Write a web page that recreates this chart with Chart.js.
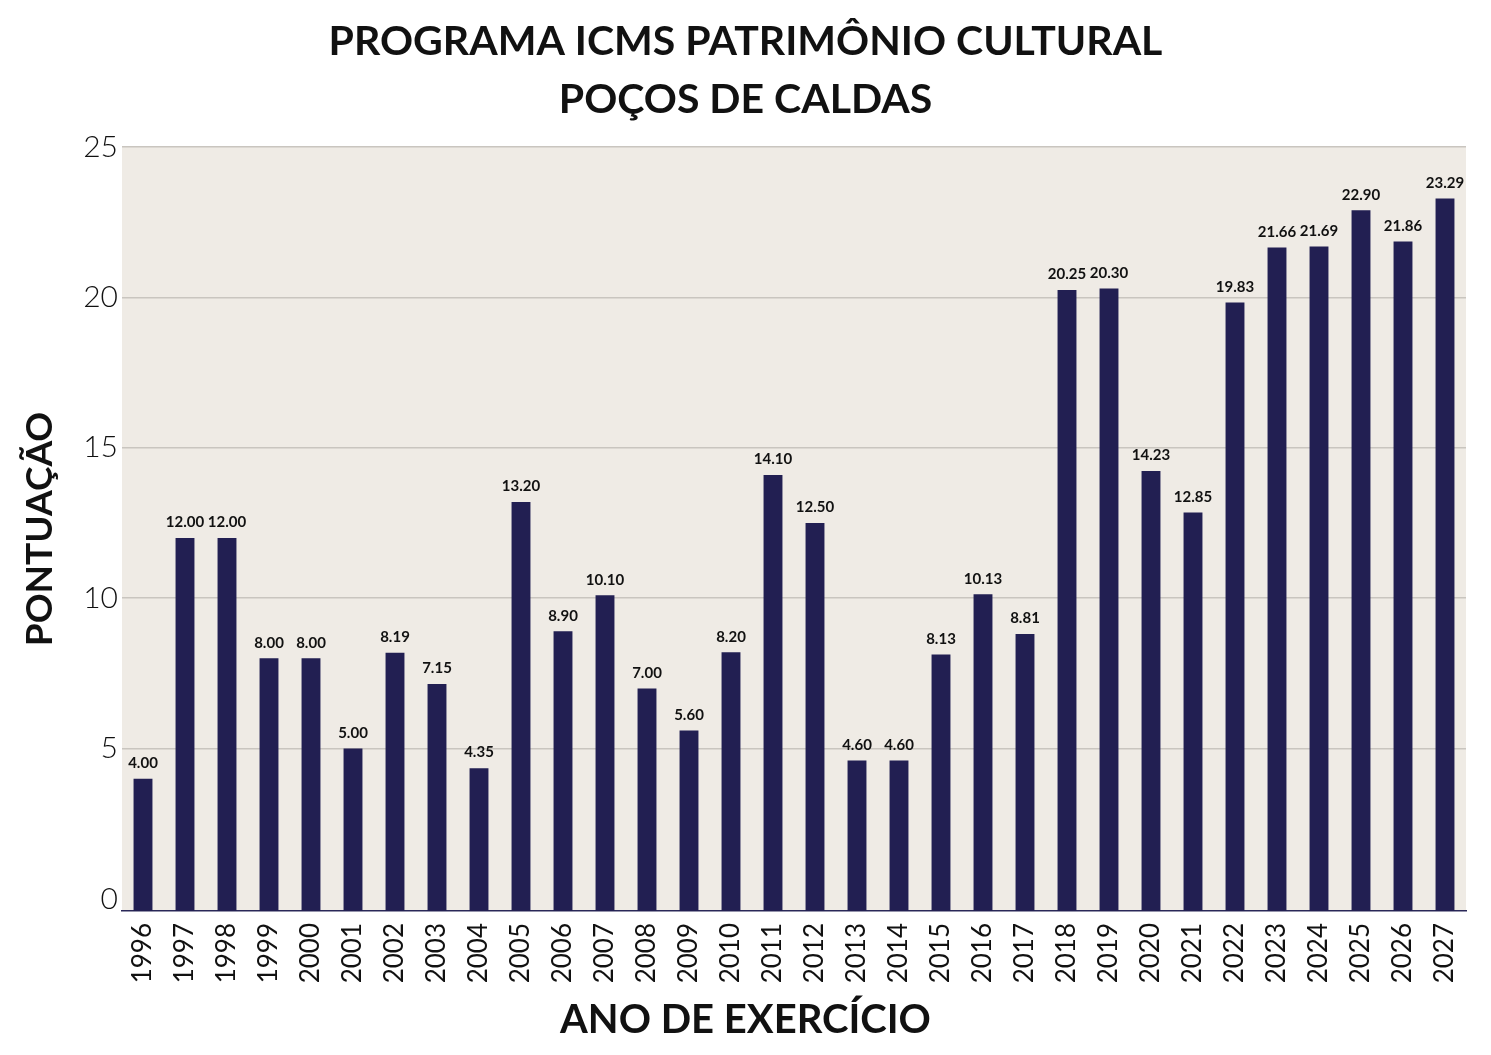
<!DOCTYPE html>
<html>
<head>
<meta charset="utf-8">
<script src="https://cdn.jsdelivr.net/npm/chart.js@4.4.1/dist/chart.umd.min.js"></script>
<style>
  body { margin: 0; background: #fff; }
  .chart-container { width: 1491px; height: 1055px; position: relative; }
</style>
</head>
<body>
<div class="chart-container">
  <canvas id="bar-chart"></canvas>
</div>
<script>
const years = ['1996','1997','1998','1999','2000','2001','2002','2003','2004','2005','2006',
  '2007','2008','2009','2010','2011','2012','2013','2014','2015','2016','2017','2018','2019',
  '2020','2021','2022','2023','2024','2025','2026','2027'];
const scores = [4.00, 12.00, 12.00, 8.00, 8.00, 5.00, 8.19, 7.15, 4.35, 13.20, 8.90,
  10.10, 7.00, 5.60, 8.20, 14.10, 12.50, 4.60, 4.60, 8.13, 10.13, 8.81, 20.25, 20.30,
  14.23, 12.85, 19.83, 21.66, 21.69, 22.90, 21.86, 23.29];
const yTicks = [0, 5, 10, 15, 20, 25];
const titleLines = ['PROGRAMA ICMS PATRIMÔNIO CULTURAL', 'POÇOS DE CALDAS'];
const xTitle = 'ANO DE EXERCÍCIO';
const yTitle = 'PONTUAÇÃO';

const FONT = "Lato, 'Open Sans', sans-serif";

// plot background (beige) + white page
const plotBackground = {
  id: 'plotBackground',
  beforeDraw(chart) {
    const { ctx, chartArea: a } = chart;
    ctx.save();
    ctx.fillStyle = '#ffffff';
    ctx.fillRect(0, 0, chart.width, chart.height);
    ctx.fillStyle = '#efebe5';
    ctx.fillRect(a.left, a.top, a.right - a.left, a.bottom - a.top);
    ctx.restore();
  }
};

// value above every bar
const valueLabels = {
  id: 'valueLabels',
  afterDatasetsDraw(chart) {
    const { ctx } = chart;
    const meta = chart.getDatasetMeta(0);
    ctx.save();
    ctx.font = 'bold 15px ' + FONT;
    ctx.fillStyle = '#111111';
    ctx.textAlign = 'center';
    ctx.textBaseline = 'bottom';
    meta.data.forEach((bar, i) => {
      ctx.fillText(scores[i].toFixed(2), bar.x, bar.y - 8);
    });
    ctx.restore();
  }
};

const ctx = document.getElementById('bar-chart');
new Chart(ctx, {
  type: 'bar',
  data: {
    labels: years,
    datasets: [{
      label: 'Pontuação',
      data: scores,
      base: -0.4,
      backgroundColor: '#221f52',
      borderWidth: 0,
      barPercentage: 0.9,
      categoryPercentage: 0.5
    }]
  },
  options: {
    responsive: true,
    maintainAspectRatio: false,
    animation: false,
    layout: { padding: { left: 25, right: 25, top: 0, bottom: 0 } },
    plugins: {
      legend: { display: false },
      tooltip: { enabled: false },
      title: {
        display: true,
        text: titleLines,
        color: '#111111',
        font: { family: FONT, size: 41, weight: 'bold', lineHeight: 1.415 },
        padding: { top: 13, bottom: 18 }
      },
      subtitle: {
        display: true,
        position: 'bottom',
        text: xTitle,
        color: '#111111',
        font: { family: FONT, size: 40, weight: 'bold', lineHeight: 1.1 },
        padding: { top: 0, bottom: 13 }
      }
    },
    scales: {
      x: {
        grid: { display: false },
        border: { display: true, color: '#2a2858', width: 1.5 },
        ticks: {
          color: '#111111',
          font: { family: FONT, size: 26 },
          minRotation: 90,
          maxRotation: 90,
          autoSkip: false,
          padding: 4
        },
        afterFit(scale) { scale.height = 87; }
      },
      y: {
        min: -0.4,
        max: 25,
        border: { display: false },
        grid: {
          drawTicks: false,
          lineWidth: 1.5,
          color: (c) => (c.tick && c.tick.value > 0 ? '#c9c5bf' : 'rgba(0,0,0,0)')
        },
        ticks: {
          color: '#111111',
          font: { family: FONT, size: 30, weight: '300' },
          padding: 4
        },
        afterBuildTicks(scale) { scale.ticks = yTicks.map(v => ({ value: v })); },
        title: {
          display: true,
          text: yTitle,
          color: '#111111',
          font: { family: FONT, size: 37, weight: 'bold', lineHeight: 0.8 },
          padding: { top: 0 }
        },
        afterFit(scale) { scale.width = 97; }
      }
    }
  },
  plugins: [plotBackground, valueLabels]
});
</script>
</body>
</html>
